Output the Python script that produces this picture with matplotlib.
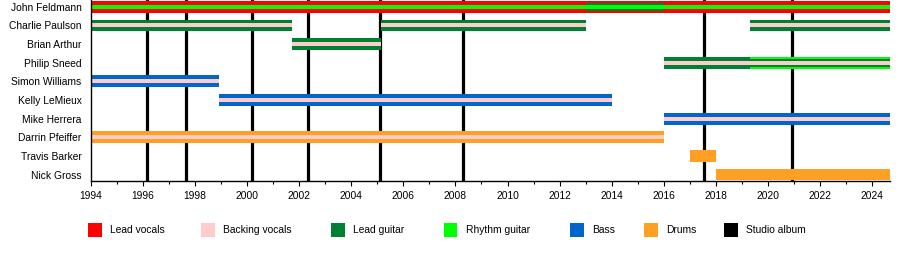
import matplotlib
matplotlib.use("Agg")
import matplotlib.pyplot as plt
from matplotlib.patches import Rectangle
from matplotlib.ticker import MultipleLocator

plt.rcParams['font.family'] = ['Liberation Sans', 'DejaVu Sans']

END = 2024.68

members = ["John Feldmann", "Charlie Paulson", "Brian Arthur", "Philip Sneed",
           "Simon Williams", "Kelly LeMieux", "Mike Herrera", "Darrin Pfeiffer",
           "Travis Barker", "Nick Gross"]

roles = ["Lead vocals", "Backing vocals", "Lead guitar", "Rhythm guitar",
         "Bass", "Drums", "Studio album"]

# Each span: member, start, end, role, rank (0 = primary, 1 = secondary, 2 = tertiary)
span_member = ["John Feldmann", "John Feldmann", "John Feldmann",
               "Charlie Paulson", "Charlie Paulson",
               "Charlie Paulson", "Charlie Paulson",
               "Charlie Paulson", "Charlie Paulson",
               "Brian Arthur", "Brian Arthur",
               "Philip Sneed", "Philip Sneed",
               "Philip Sneed", "Philip Sneed", "Philip Sneed",
               "Simon Williams", "Simon Williams",
               "Kelly LeMieux", "Kelly LeMieux",
               "Mike Herrera", "Mike Herrera",
               "Darrin Pfeiffer", "Darrin Pfeiffer",
               "Travis Barker",
               "Nick Gross"]
span_start = [1994.0, 2013.0, 1994.0,
              1994.0, 1994.0,
              2005.15, 2005.15,
              2019.3, 2019.3,
              2001.72, 2001.72,
              2016.0, 2016.0,
              2019.3, 2019.3, 2019.3,
              1994.0, 1994.0,
              1998.92, 1998.92,
              2016.0, 2016.0,
              1994.0, 1994.0,
              2017.0,
              2018.0]
span_end = [END, 2016.0, END,
            2001.72, 2001.72,
            2013.0, 2013.0,
            END, END,
            2005.15, 2005.15,
            2019.3, 2019.3,
            END, END, END,
            1998.92, 1998.92,
            2014.0, 2014.0,
            END, END,
            2016.0, 2016.0,
            2018.02,
            END]
span_role = ["Lead vocals", "Lead guitar", "Rhythm guitar",
             "Lead guitar", "Backing vocals",
             "Lead guitar", "Backing vocals",
             "Lead guitar", "Backing vocals",
             "Lead guitar", "Backing vocals",
             "Lead guitar", "Backing vocals",
             "Rhythm guitar", "Lead guitar", "Backing vocals",
             "Bass", "Backing vocals",
             "Bass", "Backing vocals",
             "Bass", "Backing vocals",
             "Drums", "Backing vocals",
             "Drums",
             "Drums"]
span_rank = [0, 1, 2,
             0, 2,
             0, 2,
             0, 2,
             0, 2,
             0, 2,
             0, 1, 2,
             0, 2,
             0, 2,
             0, 2,
             0, 2,
             0,
             0]

albums = [1996.15, 1997.66, 2000.2, 2002.35, 2005.12, 2008.3, 2017.55, 2020.93]

# ---- styling ----
role_colors = {"Lead vocals": "#ff0000", "Backing vocals": "#ffcccc",
               "Lead guitar": "#008033", "Rhythm guitar": "#00ff00",
               "Bass": "#0066cc", "Drums": "#ffa024", "Studio album": "#000000"}
rank_height = {0: 0.63, 1: 0.43, 2: 0.215}

W, H = 900, 260
fig = plt.figure(figsize=(W / 100, H / 100), dpi=100)
ax = fig.add_axes([90.7 / W, 1 - 180.7 / H, (890 - 90.7) / W, 180.7 / H])

ypos = {m: i for i, m in enumerate(members)}

for a in albums:
    ax.axvline(a, color=role_colors["Studio album"], lw=2.3, zorder=1)

order = sorted(range(len(span_member)), key=lambda i: span_rank[i])
for i in order:
    h = rank_height[span_rank[i]]
    ax.barh(ypos[span_member[i]], span_end[i] - span_start[i], left=span_start[i],
            height=h, color=role_colors[span_role[i]], linewidth=0,
            zorder=2 + span_rank[i])

ax.set_xlim(1994, END)
ax.set_ylim(len(members) - 1 + 0.33, -0.365)
ax.set_yticks(range(len(members)))
ax.set_yticklabels(members, fontsize=7.4)
ax.tick_params(axis='y', length=0, pad=6.5)
ax.xaxis.set_major_locator(MultipleLocator(2))
ax.xaxis.set_minor_locator(MultipleLocator(1))
ax.tick_params(axis='x', which='major', length=3.6, width=0.8, labelsize=7.4, pad=3.8)
ax.tick_params(axis='x', which='minor', length=1.8, width=0.8)
for s in ['top', 'right']:
    ax.spines[s].set_visible(False)
for s in ['left', 'bottom']:
    ax.spines[s].set_linewidth(1.0)
    ax.spines[s].set_zorder(6)

# legend
leg_sq_x = [88, 201, 331, 444, 570, 644, 724]
leg_y = 230
for r, x in zip(roles, leg_sq_x):
    fig.add_artist(Rectangle((x / W, 1 - (leg_y + 7) / H), 13.5 / W, 14 / H,
                             transform=fig.transFigure, color=role_colors[r], lw=0))
    fig.text((x + 22) / W, 1 - leg_y / H, r, fontsize=7.4, va='center', ha='left')

fig.savefig("out.png", dpi=100)
